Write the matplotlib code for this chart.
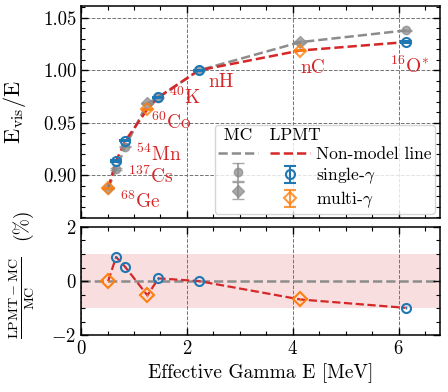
import numpy as np
import matplotlib
matplotlib.use("Agg")
import matplotlib.pyplot as plt
from matplotlib.ticker import MultipleLocator

plt.rcParams['font.family'] = 'serif'
plt.rcParams['font.serif'] = ['cmr10']
plt.rcParams['mathtext.fontset'] = 'cm'
plt.rcParams['axes.formatter.use_mathtext'] = True
plt.rcParams['font.size'] = 13.5

# sources, in order of effective energy
names = [r'$^{68}$Ge', r'$^{137}$Cs', r'$^{54}$Mn', r'$^{60}$Co', r'$^{40}$K', 'nH', 'nC', r'$^{16}$O$^{*}$']
energy = [0.511, 0.662, 0.835, 1.253, 1.461, 2.223, 4.14, 6.13]
multi = [True, False, False, True, False, False, True, False]
mc = [0.8878, 0.9060, 0.9274, 0.9688, 0.9740, 1.0000, 1.0269, 1.0380]
lpmt = [0.8878, 0.9138, 0.9329, 0.9630, 0.9745, 1.0000, 1.0189, 1.0269]
resid = [0.0, 0.89, 0.52, -0.53, 0.10, 0.0, -0.68, -0.99]
err = [0.0006] * 8
# label anchors (left, baseline) for each source name
lab_x = [0.73, 0.88, 1.04, 1.32, 1.67, 2.40, 4.15, 5.84]
lab_y = [0.869, 0.893, 0.9133, 0.9446, 0.9678, 0.984, 0.9973, 0.9973]

gray = '#8c8c8c'
blue = '#1f77b4'
orange = '#ff7f0e'
red = '#d62728'

fig = plt.figure(figsize=(4.48, 3.92), dpi=100)
ax = fig.add_axes([0.181, 0.444, 0.801, 0.541])
ax2 = fig.add_axes([0.181, 0.145, 0.801, 0.276], sharex=ax)

E = np.array(energy)
m = np.array(multi)
mc = np.array(mc)
lpmt = np.array(lpmt)
resid = np.array(resid)
err = np.array(err)

l_mc, = ax.plot(E, mc, '--', color=gray, lw=1.8, zorder=2)
l_lp, = ax.plot(E, lpmt, '--', color=red, lw=1.8, zorder=3)

eb_mc_s = ax.errorbar(E[~m], mc[~m], yerr=err[~m], fmt='o', color=gray, alpha=0.75,
                      ms=6, capsize=4, lw=1.5, zorder=4)
eb_mc_m = ax.errorbar(E[m], mc[m], yerr=err[m], fmt='D', color=gray, alpha=0.75,
                      ms=6, capsize=4, lw=1.5, zorder=4)
eb_lp_s = ax.errorbar(E[~m], lpmt[~m], yerr=err[~m], fmt='o', color=blue, mfc='none',
                      mew=1.5, ms=6.5, capsize=4, lw=1.5, zorder=5)
eb_lp_m = ax.errorbar(E[m], lpmt[m], yerr=err[m], fmt='D', color=orange, mfc='none',
                      mew=1.5, ms=6.5, capsize=4, lw=1.5, alpha=0.8, zorder=5)

for nm, x, y in zip(names, lab_x, lab_y):
    ax.text(x, y, nm, color=red, ha='left', va='baseline', fontsize=14)

ax.set_xlim(0, 6.78)
ax.set_ylim(0.8595, 1.0614)
ax.set_ylabel(r'$\mathrm{E_{vis}/E}$', fontsize=16)
ax.yaxis.set_label_coords(-0.148, 0.5)
ax.yaxis.set_major_locator(MultipleLocator(0.05))
ax.yaxis.set_minor_locator(MultipleLocator(0.01))
ax.xaxis.set_major_locator(MultipleLocator(2))
ax.xaxis.set_minor_locator(MultipleLocator(0.5))
ax.yaxis.set_major_formatter(matplotlib.ticker.FormatStrFormatter('%.2f'))
ax.grid(True, ls='--', lw=0.7, color='0.45')
ax.tick_params(labelbottom=False)

leg = ax.legend([l_mc, eb_mc_s, eb_mc_m, l_lp, eb_lp_s, eb_lp_m],
                ['', '', '', 'Non-model line', r'single-$\gamma$', r'multi-$\gamma$'],
                ncol=2, title=' MC   LPMT', alignment='left', title_fontsize=12.5,
                fontsize=12.5, loc='lower right', bbox_to_anchor=(0.985, 0.02),
                borderaxespad=0, borderpad=0.2, columnspacing=0.3, handletextpad=0.35,
                labelspacing=0.2, handlelength=2.3)
leg.set_zorder(10)

# residuals
ax2.axhspan(-1, 1, color=red, alpha=0.15, lw=0, zorder=0)
ax2.axhline(0, color=gray, ls='--', lw=1.8, zorder=1)
ax2.plot(E, resid, '--', color=red, lw=1.6, zorder=3)
ax2.errorbar(E[~m], resid[~m], yerr=0.05, fmt='o', color=blue, mfc='none', mew=1.5,
             ms=6.5, capsize=0, lw=1, zorder=5)
ax2.errorbar(E[m], resid[m], yerr=0.05, fmt='D', color=orange, mfc='none', mew=1.5,
             ms=7, capsize=0, lw=1, zorder=5)
ax2.set_ylim(-2, 2)
ax2.yaxis.set_major_locator(MultipleLocator(2))
ax2.yaxis.set_minor_locator(MultipleLocator(0.5))
ax2.grid(True, axis='x', ls='--', lw=0.7, color='0.45')
ax2.set_xlabel('Effective Gamma E [MeV]', fontsize=14)

# y label of the residual panel: fraction plus "(%)"
fig.text(22 / 448, 1 - 298 / 392, r'$\frac{\mathrm{LPMT-MC}}{\mathrm{MC}}$',
         rotation=90, ha='center', va='center', fontsize=14.5)
fig.text(22 / 448, 1 - 224 / 392, '(%)', rotation=90, ha='center', va='center', fontsize=14)

for a in (ax, ax2):
    a.tick_params(which='both', direction='in', top=True, right=True)
    a.tick_params(which='major', length=5, width=1)
    a.tick_params(which='minor', length=3, width=0.8)
    for s in a.spines.values():
        s.set_linewidth(1.1)

fig.savefig('out.png', dpi=100)
